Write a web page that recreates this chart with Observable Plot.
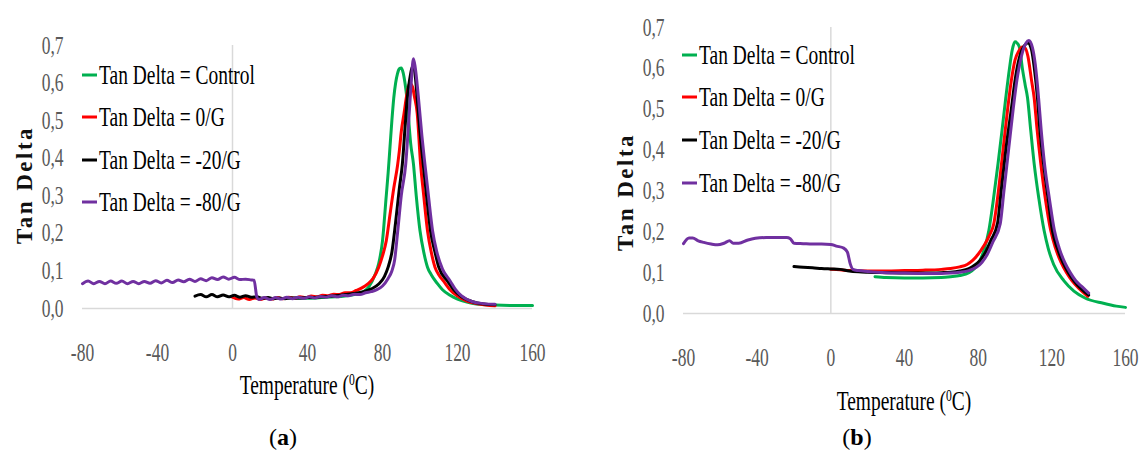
<!DOCTYPE html>
<html>
<head>
<meta charset="utf-8">
<script src="https://cdn.jsdelivr.net/npm/d3@7"></script>
<script src="https://cdn.jsdelivr.net/npm/@observablehq/plot@0.6"></script>
<style>
  html, body { margin: 0; padding: 0; background: #fff; }
  #wrap { position: relative; width: 1142px; height: 450px; overflow: hidden; font-family: "Liberation Serif", serif; }
  #wrap svg { position: absolute; top: 0; }
  .lg-line { position: absolute; width: 15px; height: 3px; transform: translateY(-50%); }
  .lg-text { position: absolute; font-size: 27px; line-height: 1; color: #000; white-space: nowrap;
             transform: translateY(-50%) scaleX(0.72); transform-origin: left center; }
  .ytitle { position: absolute; font-size: 23px; font-weight: bold; letter-spacing: 2.5px; color: #111; white-space: nowrap;
            line-height: 1; transform: translate(-50%, -50%) rotate(-90deg); }
  .xtitle { position: absolute; font-size: 27px; line-height: 1; color: #000; white-space: nowrap;
            transform: translate(-50%, -50%) scaleX(0.72); }
  .xtitle sup { font-size: 0.6em; vertical-align: 0.55em; line-height: 0; }
  .cap { position: absolute; font-size: 24px; line-height: 1; color: #000; white-space: nowrap; transform: translate(-50%, -50%); }
</style>
</head>
<body>
<div id="wrap"></div>
<script>
// ---------- labels & ticks ----------
const seriesNames = ["Tan Delta = Control", "Tan Delta = 0/G", "Tan Delta = -20/G", "Tan Delta = -80/G"];
const seriesColors = ["#00B050", "#FF0000", "#000000", "#7030A0"];
const xTicks = [-80, -40, 0, 40, 80, 120, 160];
const yTicks = [0, 0.1, 0.2, 0.3, 0.4, 0.5, 0.6, 0.7];
const yTitle = "Tan Delta";
const panelCaps = ["a", "b"];

// ---------- panel (a): [temperature °C, tan delta] ----------
const aControl = [[30,0.028],[35,0.027],[40,0.027],[45,0.028],[50,0.03],[55,0.031],[60,0.033],[65,0.037],[70,0.045],[73,0.06],[76,0.09],[78,0.12],[80,0.18],[82,0.3],[83,0.36],[84,0.43],[85,0.5],[86,0.56],[87,0.6],[88,0.625],[89,0.638],[90,0.64],[91,0.628],[92,0.6],[93,0.56],[94,0.5],[95,0.44],[96.5,0.385],[98,0.3],[100,0.207],[102,0.15],[104,0.11],[106,0.09],[109,0.068],[112,0.05],[116,0.035],[120,0.025],[125,0.017],[130,0.012],[140,0.009],[150,0.008],[160,0.008]];
const aZeroG = [[0,0.03],[3,0.025],[6,0.029],[9,0.024],[12,0.028],[15,0.024],[18,0.028],[21,0.025],[24,0.029],[27,0.026],[30,0.03],[33,0.027],[36,0.031],[39,0.029],[42,0.033],[45,0.031],[48,0.035],[51,0.034],[54,0.038],[57,0.037],[60,0.042],[63,0.042],[66,0.048],[69,0.055],[72,0.065],[75,0.08],[78,0.11],[80,0.14],[82,0.18],[84,0.25],[86,0.32],[88,0.38],[89,0.42],[90,0.47],[91.5,0.52],[93,0.57],[94.5,0.6],[96,0.59],[97,0.565],[98.5,0.52],[100.3,0.385],[102,0.3],[104,0.207],[106,0.15],[108,0.11],[110,0.09],[112.7,0.072],[116,0.05],[120,0.033],[125,0.02],[130,0.013],[135,0.009],[140,0.007]];
const aMinus20G = [[-20,0.033],[-17,0.037],[-14,0.031],[-11,0.037],[-8,0.031],[-5,0.036],[-2,0.031],[1,0.035],[4,0.03],[7,0.034],[10,0.03],[13,0.031],[16,0.027],[19,0.029],[22,0.026],[25,0.028],[28,0.026],[31,0.028],[35,0.028],[40,0.029],[45,0.03],[50,0.032],[55,0.034],[60,0.037],[65,0.04],[70,0.045],[74,0.052],[78,0.065],[81,0.085],[83,0.11],[85,0.15],[87,0.23],[89,0.32],[90.6,0.385],[92,0.48],[93.2,0.56],[94.5,0.61],[96.2,0.645],[97.2,0.63],[98.5,0.56],[100,0.47],[101.7,0.385],[103.5,0.3],[105.6,0.207],[108,0.15],[110,0.11],[114.5,0.074],[118,0.05],[122,0.032],[128,0.018],[134,0.012],[140,0.01]];
const aMinus80G = [[-80,0.066],[-77,0.073],[-74,0.066],[-71,0.072],[-68,0.066],[-65,0.073],[-62,0.067],[-59,0.073],[-56,0.066],[-53,0.072],[-50,0.066],[-47,0.072],[-44,0.067],[-41,0.074],[-38,0.068],[-35,0.075],[-32,0.069],[-29,0.076],[-26,0.071],[-23,0.078],[-20,0.072],[-17,0.079],[-14,0.074],[-11,0.082],[-8,0.077],[-5,0.084],[-2,0.078],[1,0.083],[4,0.077],[7,0.078],[10,0.076],[11.5,0.075],[13,0.03],[14,0.024],[17,0.029],[20,0.024],[23,0.029],[26,0.025],[29,0.03],[32,0.026],[35,0.03],[38,0.027],[41,0.031],[44,0.028],[47,0.032],[50,0.03],[53,0.034],[56,0.031],[59,0.035],[62,0.034],[65,0.038],[68,0.037],[71,0.042],[74,0.045],[77,0.05],[80,0.06],[83,0.08],[85,0.1],[86.5,0.13],[88,0.2],[90,0.3],[92.4,0.385],[94,0.5],[95.3,0.6],[96.5,0.665],[97.5,0.64],[99,0.57],[101,0.46],[102.6,0.385],[104.5,0.3],[106.7,0.207],[109,0.15],[112,0.105],[116,0.074],[119,0.05],[122,0.034],[128,0.018],[134,0.013],[140,0.011]];

// ---------- panel (b): [temperature °C, tan delta] ----------
const bControl = [[24,0.09],[30,0.088],[40,0.087],[50,0.087],[60,0.088],[65,0.09],[70,0.093],[75,0.1],[78,0.11],[81,0.13],[83.5,0.16],[85.8,0.203],[88,0.27],[90.8,0.367],[93,0.45],[95,0.528],[97,0.6],[98.5,0.645],[100,0.665],[101.5,0.66],[102.5,0.65],[104,0.6],[105.5,0.56],[106.8,0.528],[108.5,0.45],[110.4,0.367],[113,0.28],[115.8,0.203],[118,0.16],[121,0.12],[126.6,0.08],[132,0.055],[138,0.038],[148,0.025],[155,0.018],[160,0.015]];
const bZeroG = [[0,0.108],[5,0.107],[10,0.105],[20,0.104],[30,0.104],[40,0.105],[50,0.106],[60,0.108],[65,0.11],[70,0.114],[74,0.12],[77,0.13],[80,0.145],[83,0.165],[86,0.19],[88.5,0.22],[91,0.3],[93.5,0.4],[96,0.5],[98,0.57],[100,0.62],[102,0.642],[104,0.652],[105.5,0.65],[107,0.63],[109,0.57],[110.4,0.528],[112,0.45],[114,0.367],[116.5,0.28],[119.4,0.203],[122,0.16],[125,0.125],[128,0.1],[131,0.08],[135,0.06],[139.5,0.042]];
const bMinus20G = [[-20,0.115],[-15,0.113],[-10,0.112],[-5,0.11],[0,0.109],[5,0.108],[10,0.104],[15,0.102],[20,0.101],[30,0.1],[40,0.099],[50,0.099],[60,0.1],[65,0.101],[70,0.104],[75,0.11],[78,0.118],[81,0.13],[84,0.15],[87,0.18],[90.5,0.22],[92.5,0.3],[95,0.4],[98,0.5],[100,0.57],[102.5,0.628],[105,0.655],[107,0.662],[109,0.645],[110.5,0.6],[112.2,0.528],[113.5,0.45],[115.5,0.367],[118,0.28],[120.3,0.203],[123,0.16],[126,0.125],[129,0.1],[132,0.08],[136,0.06],[140,0.045]];
const bMinus80G = [[-80,0.171],[-77,0.185],[-75,0.185],[-72,0.178],[-69,0.174],[-65,0.17],[-61.5,0.168],[-58,0.172],[-55,0.178],[-53,0.172],[-50,0.172],[-45,0.18],[-41,0.184],[-35,0.186],[-30,0.186],[-24,0.186],[-22,0.183],[-20,0.172],[-15,0.171],[-10,0.17],[-5,0.17],[0,0.169],[3,0.165],[7,0.16],[9,0.15],[10.5,0.122],[12,0.108],[15,0.105],[20,0.103],[30,0.1],[40,0.099],[50,0.098],[60,0.098],[65,0.099],[70,0.101],[75,0.105],[79,0.113],[82,0.125],[85,0.145],[88,0.175],[92,0.22],[94,0.3],[96.5,0.4],[99,0.5],[101,0.57],[103.5,0.63],[106,0.662],[107.5,0.668],[109.5,0.65],[111,0.61],[112.8,0.528],[114.2,0.45],[116,0.367],[118.7,0.28],[121.4,0.203],[124,0.16],[127,0.125],[130,0.1],[133,0.08],[136.5,0.065],[140,0.05]];

// ---------- build ----------
const toRows = (lists) => lists.flatMap((pts, i) => pts.map(([T, v]) => ({T, v, series: seriesNames[i]})));
const rowsA = toRows([aControl, aZeroG, aMinus20G, aMinus80G]);
const rowsB = toRows([bControl, bZeroG, bMinus20G, bMinus80G]);

const fmtY = d => d.toFixed(1).replace(".", ",");

function makePanel(rows, o) {
  const svg = Plot.plot({
    width: 571, height: o.height,
    marginLeft: o.ml, marginRight: o.mr, marginTop: o.mt, marginBottom: 60,
    style: {fontFamily: "'Liberation Serif', serif", fontSize: "25px", color: "#595959", background: "transparent", overflow: "visible"},
    x: {domain: [-80, 160], ticks: xTicks, tickFormat: d => String(d), tickSize: 0, tickPadding: 35, label: null},
    y: {domain: [0, 0.7], ticks: yTicks, tickFormat: fmtY, tickSize: 0, tickPadding: 19, label: null},
    color: {domain: seriesNames, range: seriesColors},
    marks: [
      Plot.ruleY([0], {stroke: "#d9d9d9", strokeWidth: 1.5}),
      Plot.ruleX([0], {stroke: "#d9d9d9", strokeWidth: 1.5}),
      Plot.line(rows, {x: "T", y: "v", z: "series", stroke: "series", strokeWidth: 3, curve: "monotone-x", strokeLinejoin: "round"})
    ]
  });
  // condense tick labels horizontally (narrow serif look)
  svg.querySelectorAll("g[aria-label$='tick label'] text").forEach(t => {
    const tr = t.getAttribute("transform");
    if (tr) t.setAttribute("transform", tr + " scale(0.7,1)");
    else {
      const x = +(t.getAttribute("x") || 0), y = +(t.getAttribute("y") || 0);
      t.removeAttribute("x"); t.removeAttribute("y");
      t.setAttribute("transform", `translate(${x},${y}) scale(0.7,1)`);
    }
  });
  svg.style.left = o.left + "px";
  return svg;
}

const wrap = document.getElementById("wrap");
wrap.appendChild(makePanel(rowsA, {left: 0, height: 368, ml: 82, mr: 39, mt: 45}));
wrap.appendChild(makePanel(rowsB, {left: 571, height: 373, ml: 112, mr: 17, mt: 27}));

function addDiv(cls, left, top, html, extra) {
  const d = document.createElement("div");
  d.className = cls;
  d.style.left = left + "px";
  d.style.top = top + "px";
  d.innerHTML = html;
  if (extra) Object.assign(d.style, extra);
  wrap.appendChild(d);
}

const legends = [{x: 82, ys: [75, 117, 160, 202]}, {x: 682, ys: [55, 97, 140, 183]}];
legends.forEach(L => {
  seriesNames.forEach((name, i) => {
    addDiv("lg-line", L.x, L.ys[i], "", {background: seriesColors[i]});
    addDiv("lg-text", L.x + 17, L.ys[i], name);
  });
});

addDiv("ytitle", 24, 185, yTitle);
addDiv("ytitle", 625, 192, yTitle);
addDiv("xtitle", 307, 385, "Temperature (<sup>0</sup>C)");
addDiv("xtitle", 904, 401, "Temperature (<sup>0</sup>C)");
addDiv("cap", 283, 437, "(<b>" + panelCaps[0] + "</b>)");
addDiv("cap", 857, 437, "(<b>" + panelCaps[1] + "</b>)");
</script>
</body>
</html>
